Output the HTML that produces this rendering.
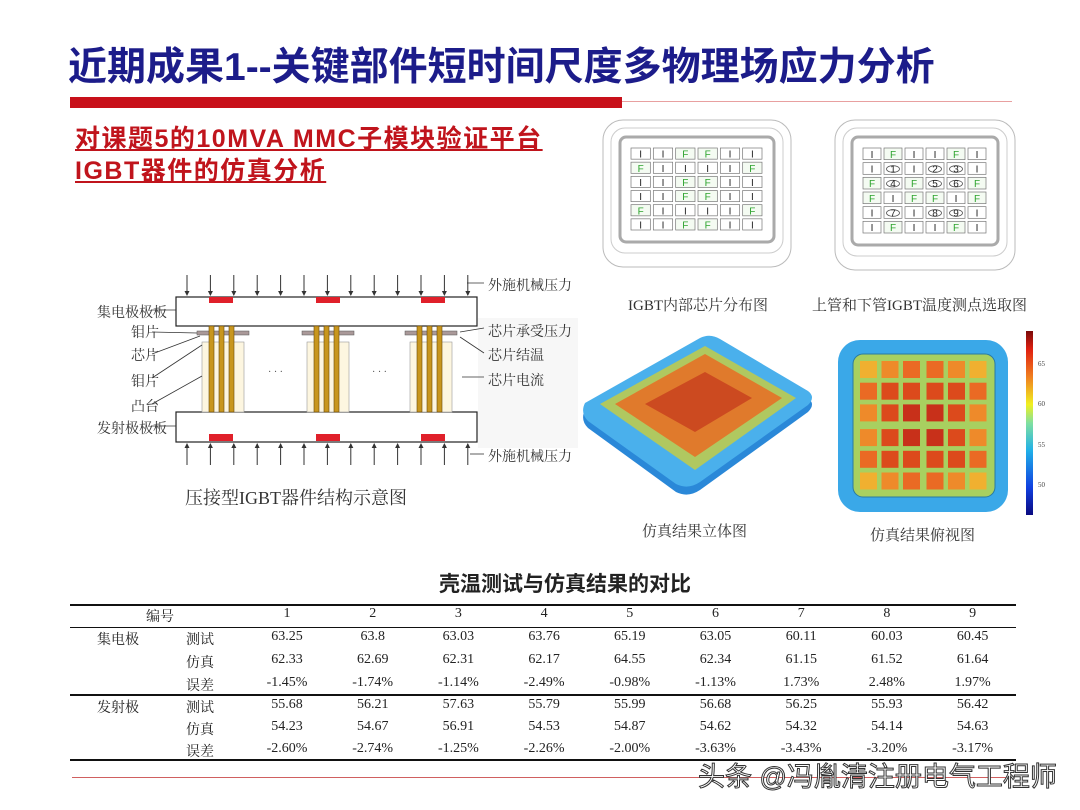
<!DOCTYPE html>
<html><head><meta charset="utf-8">
<style>
*{margin:0;padding:0;box-sizing:border-box}
body{width:1080px;height:810px;background:#fff;position:relative;overflow:hidden;font-family:"Liberation Serif","Noto Serif CJK SC",serif;color:#222}
.a{position:absolute}
.cn{font-family:"Liberation Sans","Noto Sans CJK SC",sans-serif}
.lbl{font-size:14px;color:#333;white-space:nowrap}
.cell{position:absolute;text-align:center;font-size:14px;color:#222;white-space:nowrap}
</style></head><body>
<div class="a cn" style="left:68px;top:36px;font-size:39px;font-weight:bold;color:#1c1c8a;letter-spacing:0px;white-space:nowrap">近期成果1--关键部件短时间尺度多物理场应力分析</div>
<div class="a" style="left:70px;top:97px;width:552px;height:11px;background:#c8101a"></div>
<div class="a" style="left:622px;top:101px;width:390px;height:1px;background:#e8a0a0"></div>
<div class="a cn" style="left:75px;top:123px;font-size:25px;font-weight:bold;color:#c0141c;line-height:32px;letter-spacing:1.5px;text-decoration:underline;white-space:nowrap">对课题5的10MVA MMC子模块验证平台<br>IGBT器件的仿真分析</div>

<svg class="a" style="left:0;top:0" width="1080" height="810">
<rect x="478" y="318" width="100" height="130" fill="#f7f7f7"/>
<g id="diag"></g>
</svg>
<div class="a lbl" style="left:97px;top:302px">集电极极板</div>
<div class="a lbl" style="left:131px;top:322px">钼片</div>
<div class="a lbl" style="left:131px;top:345px">芯片</div>
<div class="a lbl" style="left:131px;top:371px">钼片</div>
<div class="a lbl" style="left:131px;top:396px">凸台</div>
<div class="a lbl" style="left:97px;top:418px">发射极极板</div>
<div class="a lbl" style="left:488px;top:275px">外施机械压力</div>
<div class="a lbl" style="left:488px;top:321px">芯片承受压力</div>
<div class="a lbl" style="left:488px;top:345px">芯片结温</div>
<div class="a lbl" style="left:488px;top:370px">芯片电流</div>
<div class="a lbl" style="left:488px;top:446px">外施机械压力</div>
<div class="a" style="left:185px;top:484px;font-size:18px;color:#333;white-space:nowrap">压接型IGBT器件结构示意图</div>

<div class="a" style="left:628px;top:294px;font-size:15px;color:#333;white-space:nowrap">IGBT内部芯片分布图</div>
<div class="a" style="left:812px;top:294px;font-size:15px;color:#333;white-space:nowrap">上管和下管IGBT温度测点选取图</div>
<div class="a" style="left:642px;top:520px;font-size:15px;color:#333;white-space:nowrap">仿真结果立体图</div>
<div class="a" style="left:870px;top:524px;font-size:15px;color:#333;white-space:nowrap">仿真结果俯视图</div>

<div class="a cn" style="left:0;width:1130px;top:568px;text-align:center;font-size:21px;font-weight:bold;color:#222">壳温测试与仿真结果的对比</div>
<div id="tbl" class="a" style="left:0;top:0;width:1080px;height:810px"></div>
<div class="a" style="left:72px;top:777px;width:940px;height:1px;background:#d06060"></div>
<div class="a cn" style="left:698px;top:755px;font-size:27px;color:#fff;-webkit-text-stroke:1px #333;white-space:nowrap">头条 @冯胤清注册电气工程师</div>

<script>
const cols=["1","2","3","4","5","6","7","8","9"];
const cTest=["63.25","63.8","63.03","63.76","65.19","63.05","60.11","60.03","60.45"];
const cSim=["62.33","62.69","62.31","62.17","64.55","62.34","61.15","61.52","61.64"];
const cErr=["-1.45%","-1.74%","-1.14%","-2.49%","-0.98%","-1.13%","1.73%","2.48%","1.97%"];
const eTest=["55.68","56.21","57.63","55.79","55.99","56.68","56.25","55.93","56.42"];
const eSim=["54.23","54.67","56.91","54.53","54.87","54.62","54.32","54.14","54.63"];
const eErr=["-2.60%","-2.74%","-1.25%","-2.26%","-2.00%","-3.63%","-3.43%","-3.20%","-3.17%"];
const layoutA=["IIFFII","FIIIIF","IIFFII","IIFFII","FIIIIF","IIFFII"];
const layoutB=["IFIIFI","I1I23I","F4F56F","FIFFIF","I7I89I","IFIIFI"];
const heat=[[1,2,3,3,2,1],[3,4,4,4,4,3],[2,4,5,5,4,2],[2,4,5,5,4,2],[3,4,4,4,4,3],[1,2,3,3,2,1]];

const T=document.getElementById('tbl');
function line(y,h,n){const d=document.createElement('div');d.className='a';


d.style.cssText=`left:70px;top:${y}px;width:946px;height:${h}px;background:#111`;T.appendChild(d);}
line(604,2,'table-top-rule');line(627,1,'table-header-rule');line(694,2,'table-group-rule');line(759,2,'table-bottom-rule');
const colX=c=>287+c*85.7;
function txt(x,y,s,n){const d=document.createElement('div');d.className='cell';


d.style.left=(x-40)+'px';d.style.width='80px';d.style.top=(y-9)+'px';d.textContent=s;T.appendChild(d);}
txt(160,615,'编号','header-number');
cols.forEach((v,i)=>txt(colX(i),615,v,'header-col'));
const rows=[[cTest,'测试'],[cSim,'仿真'],[cErr,'误差'],[eTest,'测试'],[eSim,'仿真'],[eErr,'误差']];
const rowY=[638,661,684,706,728,750];
txt(118,638,'集电极','group-collector');txt(118,706,'发射极','group-emitter');
rows.forEach((r,j)=>{txt(200,rowY[j],r[1],'row-label');r[0].forEach((v,i)=>txt(colX(i),rowY[j],v,'table-value'));});

const NS='http://www.w3.org/2000/svg';const G=document.getElementById('diag');
function el(t,a,n){const e=document.createElementNS(NS,t);for(const k in a)e.setAttribute(k,a[k]);


G.appendChild(e);return e;}
el('rect',{x:176,y:297,width:301,height:29,fill:'#fff',stroke:'#222','stroke-width':1.2},'collector-plate');
el('rect',{x:176,y:412,width:301,height:30,fill:'#fff',stroke:'#222','stroke-width':1.2},'emitter-plate');
[209,316,421].forEach(x=>{el('rect',{x:x,y:297,width:24,height:6,fill:'#e0202a'},'pad-top');el('rect',{x:x,y:434,width:24,height:7,fill:'#e0202a'},'pad-bottom');});
for(let i=0;i<13;i++){const x=187+i*23.4;
el('line',{x1:x,y1:275,x2:x,y2:295,stroke:'#333','stroke-width':1},'arrow-down');
el('path',{d:`M${x-2.5} 291 L${x+2.5} 291 L${x} 296Z`,fill:'#333'},'arrow-head');
el('line',{x1:x,y1:444,x2:x,y2:465,stroke:'#333','stroke-width':1},'arrow-up');
el('path',{d:`M${x-2.5} 448 L${x+2.5} 448 L${x} 443Z`,fill:'#333'},'arrow-head');}
[197,302,405].forEach(x0=>{
 el('rect',{x:x0,y:331,width:52,height:4,fill:'#aa9999',stroke:'#555','stroke-width':.5},'mo-plate');
 el('rect',{x:x0+5,y:342,width:42,height:70,fill:'#fdf6e0',stroke:'#999','stroke-width':.6},'boss');
 for(let k=0;k<3;k++){el('rect',{x:x0+12+k*10,y:326,width:5,height:86,fill:'#c8961e',stroke:'#6a4a08','stroke-width':.6},'current-bar');}
});
el('text',{x:268,y:375,'font-size':10,fill:'#555'},'ellipsis').textContent='· · ·';
el('text',{x:372,y:375,'font-size':10,fill:'#555'},'ellipsis').textContent='· · ·';
[[152,310,176,310],[152,332,197,333],[152,354,200,336],[152,378,202,345],[152,404,202,376],[152,426,176,426],[484,283,467,283],[484,328,460,332],[484,353,460,337],[484,377,462,377],[484,454,470,454]].forEach(l=>el('line',{x1:l[0],y1:l[1],x2:l[2],y2:l[3],stroke:'#333','stroke-width':.8},'leader-line'));

function grid(x0,y0,w,h,lay,nm){
 el('rect',{x:x0,y:y0,width:w,height:h,rx:20,fill:'#fff',stroke:'#bbb','stroke-width':1},nm+'-outer');
 el('rect',{x:x0+8,y:y0+8,width:w-16,height:h-22,rx:14,fill:'none',stroke:'#ccc','stroke-width':1},nm+'-ring');
 el('rect',{x:x0+17,y:y0+17,width:w-34,height:h-42,rx:6,fill:'#fff',stroke:'#aaa','stroke-width':3},nm+'-frame');
 const cw=(w-54)/6,ch=(h-62)/6;
 lay.forEach((row,r)=>[...row].forEach((c,k)=>{const x=x0+27+k*cw,y=y0+27+r*ch;
  el('rect',{x:x+1,y:y+1,width:cw-3,height:ch-3,fill:c==='F'?'#f4fbf2':'#fff',stroke:'#777','stroke-width':.7},'chip-cell');
  if(/\d/.test(c))el('ellipse',{cx:x+cw/2-0.5,cy:y+ch/2,rx:cw/2-4,ry:ch/2-4,fill:'#fff',stroke:'#555','stroke-width':.8},'point-circle');
  const t=el('text',{x:x+cw/2-0.5,y:y+ch/2+3.5,'font-size':10,'text-anchor':'middle',fill:c==='F'?'#2da32d':'#222','font-family':'Liberation Sans'},'chip-label');t.textContent=c;}));
}
grid(603,120,188,147,layoutA,'chip-layout');
grid(835,120,180,150,layoutB,'measure-layout');

const hc=['#e6d24a','#f0b030','#ee8a2a','#ea6a24','#dc4a1c','#c8301a'];
el('rect',{x:838,y:340,width:170,height:172,rx:22,fill:'#3aa8e8'},'top-view-outer');
el('rect',{x:853,y:354,width:142,height:143,rx:10,fill:'#a8d060',stroke:'#2a7aa0','stroke-width':1},'top-view-inner');
heat.forEach((row,r)=>row.forEach((v,k)=>{el('rect',{x:860+k*21.5+(k>2?2:0),y:361+r*21.7+(r>2?3:0),width:17,height:17,fill:hc[v]},'heat-cell');}));
const gr=el('linearGradient',{id:'cb',x1:0,y1:1,x2:0,y2:0},'colorbar-gradient');
[['0','#0a0a80'],['.15','#1040e0'],['.35','#20b0e8'],['.5','#80e0a0'],['.6','#f0f020'],['.75','#f08020'],['.9','#e02010'],['1','#7a0a0a']].forEach(s=>{const st=document.createElementNS(NS,'stop');st.setAttribute('offset',s[0]);st.setAttribute('stop-color',s[1]);gr.appendChild(st);});
el('rect',{x:1026,y:331,width:7,height:184,fill:'url(#cb)'},'colorbar');
[['65',366],['60',406],['55',447],['50',487]].forEach(t=>{const e=el('text',{x:1038,y:t[1],'font-size':7,fill:'#444'},'colorbar-tick');e.textContent=t[0];});

el('path',{d:'M585 410 L700 345 Q710 340 720 346 L808 398 Q816 404 808 412 L700 490 Q688 498 676 492 L588 428 Q580 420 585 410Z',fill:'#2a88d8'},'3d-base');
el('path',{d:'M585 403 L700 338 Q710 333 720 339 L808 391 Q816 397 808 405 L700 482 Q688 490 676 484 L588 421 Q580 413 585 403Z',fill:'#4ab0ec'},'3d-top');
el('path',{d:'M600 404 L705 346 L796 398 L695 470Z',fill:'#b0c860'},'3d-chip-area');
el('path',{d:'M615 404 L705 354 L782 398 L695 457Z',fill:'#e07a2c'},'3d-hot-zone');
el('path',{d:'M645 404 L705 372 L752 398 L695 432Z',fill:'#cc4a20'},'3d-hottest');
</script>
</body></html>
